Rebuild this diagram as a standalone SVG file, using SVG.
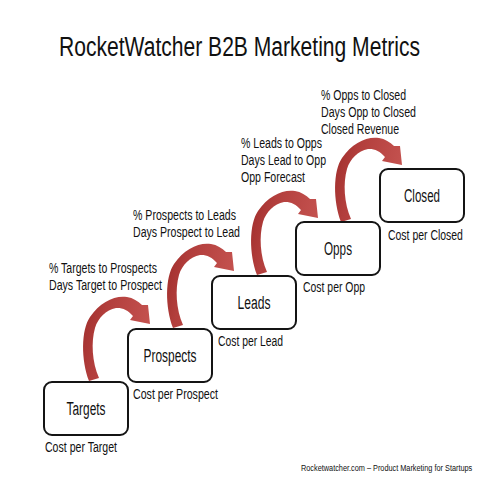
<svg xmlns="http://www.w3.org/2000/svg" xmlns:xlink="http://www.w3.org/1999/xlink" width="480" height="480" viewBox="0 0 480 480">
<style>
.box{fill:#fff;stroke:#141414;stroke-width:2}
text{font-family:"Liberation Sans",Arial,sans-serif;fill:#111}
.name{font-size:18px;text-anchor:middle}
.lbl{font-size:14px}
.title{font-size:28px}
.foot{font-size:9.5px}
</style>
<defs>
<linearGradient id="g" x1="0" y1="0" x2="1" y2="0.3">
<stop offset="0" stop-color="#9e2c2a"/>
<stop offset="0.35" stop-color="#b23e3c"/>
<stop offset="1" stop-color="#c4524f"/>
</linearGradient>
<path id="arr" fill="url(#g)" d="M89,381 C81,360 81,330 90,317 C100,302 115,295 127,297 C133,298 138,301 142,305 L148,305 L150,324 L130,320 L133,316 C128,310 122,307.5 116,308 C106,310 98,318 95,328 C91,342 92,362 99,378 Z"/>
</defs>
<rect width="480" height="480" fill="#fff"/>
<text class="title" transform="translate(59,56) scale(0.753,1)">RocketWatcher B2B Marketing Metrics</text>
<g id="connectors">
<use xlink:href="#arr"/>
<use xlink:href="#arr" transform="translate(84,-53)"/>
<use xlink:href="#arr" transform="translate(168,-106)"/>
<use xlink:href="#arr" transform="translate(252,-159)"/>
</g>
<g id="targets">
<rect class="box" x="44" y="382" width="84" height="53" rx="8"/>
<text class="name" x="86" y="415" textLength="39" lengthAdjust="spacingAndGlyphs">Targets</text>
<text class="lbl" x="45" y="452" textLength="72" lengthAdjust="spacingAndGlyphs">Cost per Target</text>
<text class="lbl" x="49" y="273" textLength="108" lengthAdjust="spacingAndGlyphs">% Targets to Prospects</text>
<text class="lbl" x="49" y="290" textLength="113" lengthAdjust="spacingAndGlyphs">Days Target to Prospect</text>
</g>
<g id="prospects">
<rect class="box" x="128" y="329" width="84" height="53" rx="8"/>
<text class="name" x="170" y="362" textLength="53" lengthAdjust="spacingAndGlyphs">Prospects</text>
<text class="lbl" x="133" y="399" textLength="85" lengthAdjust="spacingAndGlyphs">Cost per Prospect</text>
<text class="lbl" x="133" y="220" textLength="103" lengthAdjust="spacingAndGlyphs">% Prospects to Leads</text>
<text class="lbl" x="133" y="237" textLength="107" lengthAdjust="spacingAndGlyphs">Days Prospect to Lead</text>
</g>
<g id="leads">
<rect class="box" x="212" y="276" width="84" height="53" rx="8"/>
<text class="name" x="254" y="309" textLength="33" lengthAdjust="spacingAndGlyphs">Leads</text>
<text class="lbl" x="218" y="346" textLength="65" lengthAdjust="spacingAndGlyphs">Cost per Lead</text>
<text class="lbl" x="241" y="148" textLength="81" lengthAdjust="spacingAndGlyphs">% Leads to Opps</text>
<text class="lbl" x="241" y="165" textLength="85" lengthAdjust="spacingAndGlyphs">Days Lead to Opp</text>
<text class="lbl" x="241" y="182" textLength="64" lengthAdjust="spacingAndGlyphs">Opp Forecast</text>
</g>
<g id="opps">
<rect class="box" x="296" y="222" width="84" height="53" rx="8"/>
<text class="name" x="338" y="255" textLength="28" lengthAdjust="spacingAndGlyphs">Opps</text>
<text class="lbl" x="303" y="292" textLength="62" lengthAdjust="spacingAndGlyphs">Cost per Opp</text>
<text class="lbl" x="321" y="100" textLength="85" lengthAdjust="spacingAndGlyphs">% Opps to Closed</text>
<text class="lbl" x="321" y="117" textLength="95" lengthAdjust="spacingAndGlyphs">Days Opp to Closed</text>
<text class="lbl" x="321" y="134" textLength="78" lengthAdjust="spacingAndGlyphs">Closed Revenue</text>
</g>
<g id="closed">
<rect class="box" x="380" y="169" width="84" height="53" rx="8"/>
<text class="name" x="422" y="202" textLength="36" lengthAdjust="spacingAndGlyphs">Closed</text>
<text class="lbl" transform="translate(388,240) scale(0.747,1)">Cost per Closed</text>
</g>
<text class="foot" transform="translate(301,471) scale(0.772,1)">Rocketwatcher.com – Product Marketing for Startups</text>
</svg>
